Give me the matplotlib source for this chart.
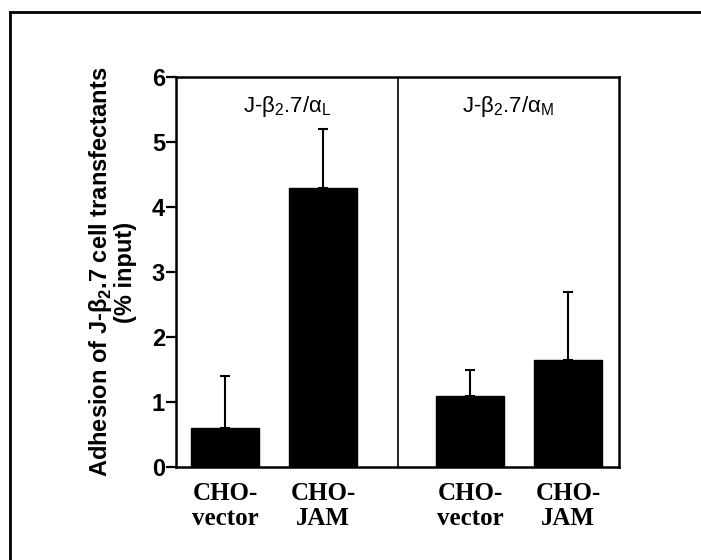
import matplotlib
matplotlib.use("Agg")
import matplotlib.pyplot as plt
from matplotlib.lines import Line2D

# data
groups = ["J-β$_\\mathregular{2}$.7/α$_\\mathregular{L}$", "J-β$_\\mathregular{2}$.7/α$_\\mathregular{M}$"]
categories = ["CHO-\nvector", "CHO-\nJAM", "CHO-\nvector", "CHO-\nJAM"]
adhesion = [0.6, 4.3, 1.1, 1.65]
sem = [0.8, 0.9, 0.4, 1.05]
yticks = [0, 1, 2, 3, 4, 5, 6]

# layout (x positions in bar-spacing units)
bar_pos = [0.5, 1.5, 3.0, 4.0]
divider = 2.265
x_max = 4.52

plt.rcParams['font.family'] = ['Liberation Sans', 'DejaVu Sans']

fig = plt.figure(figsize=(7.01, 5.6), dpi=100)
ax = fig.add_axes([176 / 701, 1 - 467 / 560, (619 - 176) / 701, 390 / 560])

ax.bar(bar_pos, adhesion, width=0.70, color='black', edgecolor='black')
ax.errorbar(bar_pos, adhesion, yerr=[[0] * 4, sem], fmt='none', ecolor='black',
            elinewidth=1.5, capsize=3.5, capthick=1.5)

ax.axvline(divider, color='black', lw=1.2)

ax.set_xlim(0, x_max)
ax.set_ylim(0, 6)
ax.set_yticks(yticks)
ax.set_yticklabels([str(t) for t in yticks], fontsize=17, fontweight='bold')
ax.tick_params(axis='y', direction='out', length=7, width=1.6, pad=1)

ax.set_xticks(bar_pos)
ax.set_xticklabels(categories, family='Liberation Serif', fontweight='bold',
                   fontsize=18, linespacing=1.12)
ax.tick_params(axis='x', length=0, pad=11)

for s in ['left', 'right', 'top', 'bottom']:
    ax.spines[s].set_linewidth(1.8)

# panel titles
ax.text(divider / 2, 0.925, groups[0], transform=ax.get_xaxis_transform(),
        ha='center', va='center', fontsize=16)
ax.text((divider + x_max) / 2, 0.925, groups[1], transform=ax.get_xaxis_transform(),
        ha='center', va='center', fontsize=16)

fig.text(112 / 701, 1 - 272 / 560,
         "Adhesion of J-β$_\\mathregular{2}$.7 cell transfectants\n(% input)",
         rotation=90, ha='center', va='center', fontsize=17, fontweight='bold',
         multialignment='center', linespacing=1.0)

# outer frame
fig.add_artist(Line2D([10 / 701, 10 / 701], [0, 1 - 12 / 560], color='black', lw=2,
                      transform=fig.transFigure))
fig.add_artist(Line2D([10 / 701, 1], [1 - 12 / 560, 1 - 12 / 560], color='black', lw=2,
                      transform=fig.transFigure))

fig.savefig("out.png", dpi=100)
